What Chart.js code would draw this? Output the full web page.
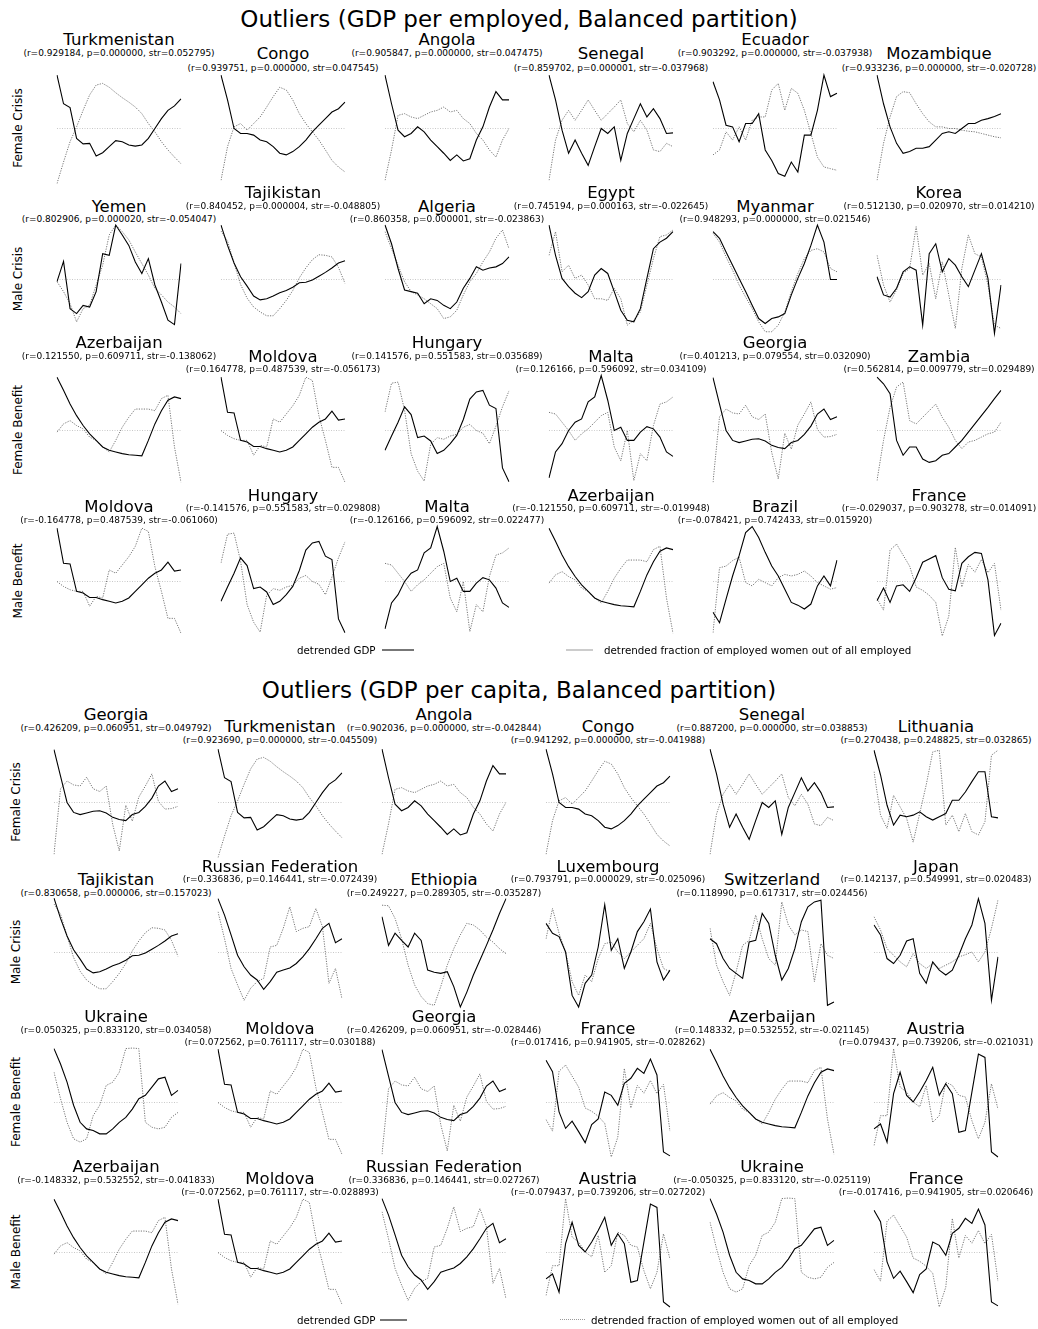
<!DOCTYPE html>
<html>
<head>
<meta charset="utf-8">
<script src="https://cdn.jsdelivr.net/npm/chart.js@4.4.1/dist/chart.umd.min.js"></script>
<style>
  body { margin: 0; background: #fff; font-family: "DejaVu Sans", sans-serif; }
  #page { position: relative; width: 1038px; height: 1329px; overflow: hidden; }
  .t { position: absolute; white-space: nowrap; transform: translate(-50%, -50%); color: #000; line-height: 1; }
  .title { font-size: 16.5px; }
  .stats { font-size: 9px; }
  .big { font-size: 23px; }
  .rowlab { font-size: 12px; transform: translate(-50%, -50%) rotate(-90deg); }
  .leg { position: absolute; font-size: 10.3px; white-space: nowrap; line-height: 1; transform: translateY(-50%); }
  .legline { position: absolute; height: 0; }
  canvas { position: absolute; }
</style>
</head>
<body>
<div id="page"></div>
<script>
// years on the x axis
const years = [1991, 1992, 1993, 1994, 1995, 1996, 1997, 1998, 1999, 2000,
               2001, 2002, 2003, 2004, 2005, 2006, 2007, 2008, 2009, 2010];

// detrended GDP (solid) and detrended female share of employment (dotted), per country
const turkmenistanGdp = [0.97, 0.45, 0.38, -0.18, -0.28, -0.27, -0.50, -0.44, -0.33, -0.22, -0.24, -0.30, -0.32, -0.30, -0.18, 0.0, 0.18, 0.33, 0.41, 0.54];
const turkmenistanFem = [-1.0, -0.61, -0.24, 0.03, 0.33, 0.61, 0.79, 0.82, 0.75, 0.65, 0.56, 0.48, 0.39, 0.27, 0.09, -0.06, -0.24, -0.39, -0.52, -0.64];
const congoGdp = [0.97, 0.52, 0.0, -0.09, -0.09, -0.12, -0.21, -0.24, -0.33, -0.45, -0.48, -0.42, -0.33, -0.21, -0.06, 0.06, 0.18, 0.30, 0.36, 0.48];
const congoFem = [-0.94, -0.33, 0.03, 0.09, -0.03, 0.09, 0.21, 0.39, 0.58, 0.75, 0.70, 0.52, 0.27, 0.09, -0.06, -0.21, -0.39, -0.58, -0.70, -0.79];
const angolaGdp = [0.97, 0.45, -0.03, -0.15, -0.09, 0.03, -0.06, -0.21, -0.33, -0.45, -0.58, -0.48, -0.59, -0.55, -0.21, 0.03, 0.39, 0.67, 0.52, 0.52];
const angolaFem = [-0.94, -0.39, 0.24, 0.27, 0.21, 0.18, 0.24, 0.30, 0.33, 0.39, 0.30, 0.33, 0.18, 0.09, -0.09, -0.21, -0.39, -0.52, -0.21, 0.0];
const senegalGdp = [0.97, 0.52, -0.03, -0.45, -0.21, -0.45, -0.67, -0.33, 0.0, -0.09, 0.03, -0.58, -0.09, 0.18, 0.45, 0.21, 0.36, 0.18, -0.09, -0.08];
const senegalFem = [-0.94, -0.21, 0.15, 0.33, 0.15, 0.33, 0.52, 0.33, 0.15, 0.27, 0.39, 0.52, 0.09, -0.06, 0.15, -0.03, -0.39, -0.42, -0.27, -0.33];
const ecuadorGdp = [0.85, 0.52, 0.06, 0.03, -0.24, 0.09, 0.09, 0.27, -0.39, -0.58, -0.82, -0.87, -0.61, -0.79, -0.12, -0.12, 0.33, 0.97, 0.58, 0.64];
const ecuadorFem = [-0.48, -0.39, -0.06, -0.21, 0.03, -0.21, 0.15, 0.21, 0.21, 0.70, 0.82, 0.33, 0.73, 0.64, 0.33, -0.09, -0.52, -0.70, -0.73, -0.76];
const mozambiqueGdp = [0.97, 0.45, 0.03, -0.27, -0.45, -0.42, -0.36, -0.36, -0.33, -0.21, -0.09, -0.06, -0.09, 0.0, 0.09, 0.09, 0.15, 0.18, 0.22, 0.27];
const mozambiqueFem = [-0.94, -0.27, 0.21, 0.58, 0.67, 0.65, 0.45, 0.27, 0.12, 0.03, 0.03, 0.0, 0.0, -0.03, -0.05, -0.06, -0.09, -0.12, -0.15, -0.17];
const yemenGdp = [-0.04, 0.33, -0.53, -0.62, -0.47, -0.50, -0.22, 0.47, 0.44, 0.99, 0.81, 0.62, 0.32, 0.11, 0.38, -0.10, -0.41, -0.74, -0.82, 0.29];
const yemenFem = [-0.04, -0.22, -0.44, -0.77, -0.53, -0.47, -0.10, 0.26, 0.81, 0.99, 0.87, 0.72, 0.50, 0.29, 0.08, -0.16, -0.28, -0.41, -0.50, -0.62];
const tajikistanGdp = [0.99, 0.62, 0.30, 0.05, -0.12, -0.30, -0.37, -0.35, -0.30, -0.24, -0.20, -0.14, -0.06, -0.05, -0.01, 0.06, 0.13, 0.21, 0.30, 0.34];
const tajikistanFem = [0.88, 0.70, 0.30, -0.09, -0.34, -0.50, -0.59, -0.66, -0.66, -0.53, -0.38, -0.20, 0.03, 0.21, 0.36, 0.45, 0.44, 0.41, 0.22, -0.07];
const algeriaGdp = [0.99, 0.65, 0.20, -0.19, -0.22, -0.25, -0.44, -0.35, -0.38, -0.47, -0.53, -0.41, -0.16, 0.02, 0.23, 0.17, 0.21, 0.23, 0.29, 0.41];
const algeriaFem = [0.87, 0.56, 0.26, -0.04, -0.22, -0.28, -0.35, -0.44, -0.53, -0.71, -0.68, -0.56, -0.28, -0.04, 0.11, 0.32, 0.50, 0.75, 0.90, 0.56];
const egyptGdp = [0.99, 0.44, 0.02, -0.13, -0.25, -0.33, -0.22, 0.08, 0.20, 0.11, -0.22, -0.56, -0.74, -0.77, -0.53, 0.02, 0.56, 0.68, 0.75, 0.87];
const egyptFem = [0.44, 0.87, 0.14, 0.26, 0.02, 0.08, -0.10, -0.35, -0.35, -0.38, -0.16, -0.35, -0.83, -0.74, -0.59, -0.10, 0.38, 0.78, 0.81, 0.90];
const myanmarGdp = [0.87, 0.75, 0.50, 0.26, 0.02, -0.22, -0.47, -0.71, -0.80, -0.71, -0.68, -0.62, -0.28, 0.02, 0.29, 0.62, 0.99, 0.68, 0.0, 0.0];
const myanmarFem = [0.84, 0.68, 0.41, 0.17, -0.10, -0.32, -0.53, -0.77, -0.95, -0.95, -0.83, -0.59, -0.22, 0.11, 0.38, 0.53, 0.56, 0.50, 0.20, 0.14];
const koreaGdp = [0.05, -0.28, -0.32, -0.16, 0.14, 0.23, 0.17, -0.83, 0.47, 0.65, 0.14, 0.38, 0.26, 0.05, -0.13, 0.17, 0.47, 0.02, -0.98, -0.10];
const koreaFem = [0.44, -0.10, -0.41, -0.19, 0.11, 0.20, 0.96, 0.08, 0.29, -0.35, 0.32, -0.28, -0.89, 0.20, 0.81, 0.47, 0.41, -0.10, -0.83, -0.89];
const azerbaijanGdp = [0.97, 0.73, 0.48, 0.27, 0.09, -0.06, -0.18, -0.30, -0.36, -0.39, -0.42, -0.44, -0.45, -0.46, -0.18, 0.12, 0.36, 0.55, 0.61, 0.58];
const azerbaijanFem = [-0.03, 0.12, 0.18, 0.09, 0.03, -0.12, -0.18, -0.30, -0.39, -0.18, 0.06, 0.24, 0.39, 0.39, 0.39, 0.36, 0.58, 0.64, -0.30, -0.94];
const moldovaGdp = [0.97, 0.33, 0.32, -0.18, -0.21, -0.29, -0.29, -0.33, -0.36, -0.39, -0.36, -0.30, -0.18, -0.06, 0.06, 0.15, 0.21, 0.35, 0.19, 0.21];
const moldovaFem = [0.0, -0.09, -0.15, -0.18, -0.18, -0.45, -0.27, -0.30, 0.21, 0.15, 0.30, 0.45, 0.64, 0.97, 0.91, 0.27, -0.18, -0.67, -0.67, -0.94];
const hungaryGdp = [-0.36, -0.10, 0.15, 0.43, 0.29, -0.13, -0.10, -0.19, -0.42, -0.36, -0.24, -0.09, 0.20, 0.57, 0.70, 0.73, 0.46, 0.40, -0.68, -0.93];
const hungaryFem = [0.34, 0.86, 0.88, 0.37, -0.42, -0.74, -0.92, -0.25, -0.13, -0.16, -0.10, -0.07, 0.06, 0.11, 0.0, -0.05, -0.24, 0.08, 0.43, 0.72];
const maltaGdp = [-0.86, -0.39, -0.24, 0.0, 0.15, 0.21, 0.52, 0.61, 1.0, 0.55, 0.0, 0.06, -0.18, -0.18, -0.03, 0.07, 0.03, -0.12, -0.39, -0.47];
const maltaFem = [0.33, 0.30, 0.15, 0.0, -0.18, -0.06, 0.03, 0.15, 0.27, 0.33, -0.30, -0.55, 0.0, -0.91, -0.42, -0.55, 0.09, 0.48, 0.52, 0.61];
const georgiaGdp = [0.96, 0.48, 0.0, -0.18, -0.22, -0.19, -0.16, -0.15, -0.19, -0.27, -0.31, -0.33, -0.22, -0.18, -0.07, 0.08, 0.30, 0.39, 0.20, 0.25];
const georgiaFem = [-0.94, 0.25, 0.39, 0.32, 0.30, 0.46, 0.25, 0.20, 0.30, -0.40, -0.88, -0.05, -0.34, 0.10, 0.30, 0.52, 0.02, -0.12, -0.11, -0.07];
const zambiaGdp = [0.97, 0.85, 0.67, -0.18, -0.45, -0.30, -0.30, -0.52, -0.58, -0.55, -0.45, -0.42, -0.30, -0.18, -0.03, 0.12, 0.27, 0.42, 0.58, 0.73];
const zambiaFem = [-0.91, -0.18, 0.42, 0.79, 0.88, 0.18, 0.12, 0.24, 0.36, 0.48, 0.24, 0.06, -0.18, -0.33, -0.21, -0.18, -0.12, -0.06, -0.03, 0.15];
const brazilGdp = [-0.56, -0.75, -0.32, 0.10, 0.47, 0.89, 1.0, 0.80, 0.53, 0.28, 0.10, -0.14, -0.38, -0.43, -0.50, -0.41, -0.08, 0.10, -0.08, 0.39];
const brazilFem = [-0.93, 0.25, 0.28, 0.38, 0.44, -0.02, -0.08, 0.04, -0.02, -0.08, 0.07, 0.13, 0.10, 0.13, 0.19, 0.10, -0.02, -0.08, -0.14, -0.11];
const franceGdpEmp = [-0.35, -0.12, -0.38, -0.08, -0.06, -0.18, 0.07, 0.35, 0.41, 0.47, 0.07, -0.14, -0.17, 0.33, 0.45, 0.53, 0.51, 0.03, -0.98, -0.76];
const franceGdpCap = [0.77, 0.56, -0.17, -0.47, -0.34, -0.53, -0.73, -0.40, -0.30, 0.19, 0.13, -0.05, 0.35, 0.44, 0.62, 0.53, 0.79, 0.50, -0.90, -0.97];
const franceFem = [-0.31, -0.52, 0.57, 0.68, 0.48, 0.28, -0.10, -0.16, -0.25, -0.38, -0.99, -0.63, 0.62, -0.10, 0.31, 0.17, 0.40, 0.16, 0.33, -0.52];
const lithuaniaGdp = [0.95, 0.50, -0.05, -0.41, -0.23, -0.26, -0.23, -0.17, -0.26, -0.32, -0.26, -0.20, 0.04, 0.04, 0.19, 0.38, 0.56, 0.56, -0.26, -0.28];
const lithuaniaFem = [0.56, -0.23, -0.47, 0.13, -0.08, -0.29, -0.72, -0.20, 0.32, 0.92, 0.95, -0.41, -0.23, -0.53, -0.20, -0.53, -0.59, -0.35, 0.86, 0.95];
const russiaGdp = [0.98, 0.68, 0.32, -0.05, -0.26, -0.41, -0.50, -0.67, -0.53, -0.36, -0.32, -0.28, -0.20, -0.08, 0.07, 0.25, 0.44, 0.53, 0.18, 0.25];
const russiaFem = [0.74, 0.25, -0.29, -0.59, -0.87, -0.65, -0.53, -0.47, 0.10, 0.13, 0.44, 0.83, 0.38, 0.44, 0.47, 0.80, 0.47, -0.56, -0.29, -0.84];
const ethiopiaGdp = [0.65, 0.13, 0.35, 0.22, 0.10, 0.35, 0.22, -0.32, -0.36, -0.38, -0.35, -0.62, -0.99, -0.72, -0.41, -0.14, 0.13, 0.41, 0.71, 0.98];
const ethiopiaFem = [0.86, 0.85, 0.62, 0.25, -0.23, -0.59, -0.80, -0.93, -0.96, -0.62, -0.23, 0.07, 0.32, 0.53, 0.50, 0.41, 0.28, 0.19, 0.07, -0.02];
const luxembourgGdp = [0.53, 0.35, 0.29, 0.01, -0.78, -0.99, -0.56, -0.41, 0.10, 0.87, 0.04, 0.25, -0.29, 0.01, 0.38, 0.56, 0.79, -0.17, -0.50, -0.32];
const luxembourgFem = [0.25, 0.80, 0.35, 0.01, -0.53, -0.78, -0.41, -0.53, -0.11, 0.16, 0.19, 0.01, -0.11, 0.01, 0.13, 0.25, 0.53, 0.07, -0.29, -0.35];
const switzerlandGdp = [0.25, 0.16, -0.11, -0.29, -0.38, -0.47, 0.19, 0.22, 0.71, 0.53, -0.05, -0.50, -0.29, 0.07, 0.56, 0.83, 0.92, 0.95, -0.96, -0.90];
const switzerlandFem = [0.44, -0.23, -0.53, -0.78, -0.35, 0.13, 0.22, 0.68, 0.25, -0.11, -0.23, 0.92, 0.50, 0.32, 0.41, 0.38, -0.53, 0.16, -0.05, -0.11];
const japanGdp = [0.50, 0.32, -0.11, -0.20, -0.05, 0.21, 0.25, -0.38, -0.56, -0.17, -0.32, -0.41, -0.32, -0.05, 0.25, 0.50, 0.98, 0.53, -0.87, -0.08];
const japanFem = [0.65, 0.41, 0.07, -0.05, -0.17, -0.26, -0.02, -0.20, -0.29, -0.20, -0.29, -0.23, -0.17, -0.08, -0.04, 0.01, -0.17, 0.01, 0.44, 0.95];
const ukraineGdp = [0.98, 0.70, 0.37, -0.05, -0.36, -0.48, -0.51, -0.57, -0.57, -0.48, -0.36, -0.27, -0.12, 0.07, 0.13, 0.28, 0.43, 0.46, 0.13, 0.22];
const ukraineFem = [0.55, 0.07, -0.36, -0.66, -0.72, -0.66, -0.24, -0.05, 0.31, 0.37, 0.55, 0.98, 0.99, 0.98, -0.36, -0.45, -0.48, -0.45, -0.27, -0.18];
const austriaGdp = [-0.48, -0.39, -0.72, 0.16, 0.55, 0.13, 0.01, 0.19, 0.40, 0.64, 0.13, 0.34, 0.16, -0.54, -0.51, 0.19, 0.88, 0.82, -0.90, -0.99];
const austriaFem = [-0.78, -0.24, -0.24, 0.98, 0.28, 0.19, 0.01, -0.08, 0.31, -0.36, -0.24, 0.37, 0.31, 0.13, 0.10, -0.33, -0.66, -0.36, 0.34, -0.12];

const rowNames = ['Female Crisis', 'Male Crisis', 'Female Benefit', 'Male Benefit'];

// panel 1: GDP per employed
const empCountries = [
  ['Turkmenistan', 'Congo', 'Angola', 'Senegal', 'Ecuador', 'Mozambique'],
  ['Yemen', 'Tajikistan', 'Algeria', 'Egypt', 'Myanmar', 'Korea'],
  ['Azerbaijan', 'Moldova', 'Hungary', 'Malta', 'Georgia', 'Zambia'],
  ['Moldova', 'Hungary', 'Malta', 'Azerbaijan', 'Brazil', 'France']
];
const empStats = [
  ['(r=0.929184, p=0.000000, str=0.052795)', '(r=0.939751, p=0.000000, str=0.047545)', '(r=0.905847, p=0.000000, str=0.047475)',
   '(r=0.859702, p=0.000001, str=-0.037968)', '(r=0.903292, p=0.000000, str=-0.037938)', '(r=0.933236, p=0.000000, str=-0.020728)'],
  ['(r=0.802906, p=0.000020, str=-0.054047)', '(r=0.840452, p=0.000004, str=-0.048805)', '(r=0.860358, p=0.000001, str=-0.023863)',
   '(r=0.745194, p=0.000163, str=-0.022645)', '(r=0.948293, p=0.000000, str=0.021546)', '(r=0.512130, p=0.020970, str=0.014210)'],
  ['(r=0.121550, p=0.609711, str=-0.138062)', '(r=0.164778, p=0.487539, str=-0.056173)', '(r=0.141576, p=0.551583, str=0.035689)',
   '(r=0.126166, p=0.596092, str=0.034109)', '(r=0.401213, p=0.079554, str=0.032090)', '(r=0.562814, p=0.009779, str=0.029489)'],
  ['(r=-0.164778, p=0.487539, str=-0.061060)', '(r=-0.141576, p=0.551583, str=0.029808)', '(r=-0.126166, p=0.596092, str=0.022477)',
   '(r=-0.121550, p=0.609711, str=-0.019948)', '(r=-0.078421, p=0.742433, str=0.015920)', '(r=-0.029037, p=0.903278, str=0.014091)']
];
const empGdp = [
  [turkmenistanGdp, congoGdp, angolaGdp, senegalGdp, ecuadorGdp, mozambiqueGdp],
  [yemenGdp, tajikistanGdp, algeriaGdp, egyptGdp, myanmarGdp, koreaGdp],
  [azerbaijanGdp, moldovaGdp, hungaryGdp, maltaGdp, georgiaGdp, zambiaGdp],
  [moldovaGdp, hungaryGdp, maltaGdp, azerbaijanGdp, brazilGdp, franceGdpEmp]
];
const empFem = [
  [turkmenistanFem, congoFem, angolaFem, senegalFem, ecuadorFem, mozambiqueFem],
  [yemenFem, tajikistanFem, algeriaFem, egyptFem, myanmarFem, koreaFem],
  [azerbaijanFem, moldovaFem, hungaryFem, maltaFem, georgiaFem, zambiaFem],
  [moldovaFem, hungaryFem, maltaFem, azerbaijanFem, brazilFem, franceFem]
];

// panel 2: GDP per capita
const capCountries = [
  ['Georgia', 'Turkmenistan', 'Angola', 'Congo', 'Senegal', 'Lithuania'],
  ['Tajikistan', 'Russian Federation', 'Ethiopia', 'Luxembourg', 'Switzerland', 'Japan'],
  ['Ukraine', 'Moldova', 'Georgia', 'France', 'Azerbaijan', 'Austria'],
  ['Azerbaijan', 'Moldova', 'Russian Federation', 'Austria', 'Ukraine', 'France']
];
const capStats = [
  ['(r=0.426209, p=0.060951, str=0.049792)', '(r=0.923690, p=0.000000, str=-0.045509)', '(r=0.902036, p=0.000000, str=-0.042844)',
   '(r=0.941292, p=0.000000, str=-0.041988)', '(r=0.887200, p=0.000000, str=0.038853)', '(r=0.270438, p=0.248825, str=0.032865)'],
  ['(r=0.830658, p=0.000006, str=0.157023)', '(r=0.336836, p=0.146441, str=-0.072439)', '(r=0.249227, p=0.289305, str=-0.035287)',
   '(r=0.793791, p=0.000029, str=-0.025096)', '(r=0.118990, p=0.617317, str=0.024456)', '(r=0.142137, p=0.549991, str=0.020483)'],
  ['(r=0.050325, p=0.833120, str=0.034058)', '(r=0.072562, p=0.761117, str=0.030188)', '(r=0.426209, p=0.060951, str=-0.028446)',
   '(r=0.017416, p=0.941905, str=-0.028262)', '(r=0.148332, p=0.532552, str=-0.021145)', '(r=0.079437, p=0.739206, str=-0.021031)'],
  ['(r=-0.148332, p=0.532552, str=-0.041833)', '(r=-0.072562, p=0.761117, str=-0.028893)', '(r=0.336836, p=0.146441, str=0.027267)',
   '(r=-0.079437, p=0.739206, str=0.027202)', '(r=-0.050325, p=0.833120, str=-0.025119)', '(r=-0.017416, p=0.941905, str=0.020646)']
];
const capGdp = [
  [georgiaGdp, turkmenistanGdp, angolaGdp, congoGdp, senegalGdp, lithuaniaGdp],
  [tajikistanGdp, russiaGdp, ethiopiaGdp, luxembourgGdp, switzerlandGdp, japanGdp],
  [ukraineGdp, moldovaGdp, georgiaGdp, franceGdpCap, azerbaijanGdp, austriaGdp],
  [azerbaijanGdp, moldovaGdp, russiaGdp, austriaGdp, ukraineGdp, franceGdpCap]
];
const capFem = [
  [georgiaFem, turkmenistanFem, angolaFem, congoFem, senegalFem, lithuaniaFem],
  [tajikistanFem, russiaFem, ethiopiaFem, luxembourgFem, switzerlandFem, japanFem],
  [ukraineFem, moldovaFem, georgiaFem, franceFem, azerbaijanFem, austriaFem],
  [azerbaijanFem, moldovaFem, russiaFem, austriaFem, ukraineFem, franceFem]
];

// layout
const page = document.getElementById('page');
const PLOT_W = 124, HALF_H = 60.5, PAD = 3;

const addText = (cls, txt, x, y) => {
  const el = document.createElement('div');
  el.className = 't ' + cls;
  el.textContent = txt;
  el.style.left = x + 'px';
  el.style.top = y + 'px';
  page.appendChild(el);
}

const addLegend = (y, gdpText, gdpLine, femLine, femText, femDash) => {
  const a = document.createElement('div');
  a.className = 'leg'; a.textContent = 'detrended GDP';
  a.style.left = gdpText + 'px'; a.style.top = y + 'px';
  page.appendChild(a);
  const l1 = document.createElement('div');
  l1.className = 'legline';
  l1.style.left = gdpLine[0] + 'px'; l1.style.width = (gdpLine[1] - gdpLine[0]) + 'px';
  l1.style.top = (y - 1) + 'px'; l1.style.borderTop = '2px solid #777';
  page.appendChild(l1);
  const l2 = document.createElement('div');
  l2.className = 'legline';
  l2.style.left = femLine[0] + 'px'; l2.style.width = (femLine[1] - femLine[0]) + 'px';
  l2.style.top = (y - 1) + 'px'; l2.style.borderTop = femDash ? '1px dotted #999' : '2px solid #ccc';
  page.appendChild(l2);
  const b = document.createElement('div');
  b.className = 'leg'; b.textContent = 'detrended fraction of employed women out of all employed';
  b.style.left = femText + 'px'; b.style.top = y + 'px';
  page.appendChild(b);
}

const drawSmall = (x0, zeroY, gdp, fem) => {
  const canvas = document.createElement('canvas');
  canvas.width = PLOT_W + 2 * PAD;
  canvas.height = Math.round(2 * HALF_H) + 2 * PAD;
  canvas.style.left = (x0 - PAD) + 'px';
  canvas.style.top = Math.round(zeroY - HALF_H - PAD) + 'px';
  page.appendChild(canvas);
  new Chart(canvas, {
    type: 'line',
    data: {
      labels: years,
      datasets: [
        { data: gdp, borderColor: '#000', borderWidth: 1.1, pointRadius: 0 },
        { data: fem, borderColor: '#777', borderWidth: 1, borderDash: [1.2, 1.3], pointRadius: 0 },
        { data: years.map(() => 0), borderColor: '#c8c8c8', borderWidth: 1, borderDash: [1, 1.5], pointRadius: 0 }
      ]
    },
    options: {
      responsive: false,
      animation: false,
      events: [],
      layout: { padding: PAD },
      plugins: { legend: { display: false }, tooltip: { enabled: false } },
      scales: {
        x: { display: false, offset: false },
        y: { display: false, min: -1.1, max: 1.1 }
      }
    }
  });
}

const drawPanel = (cfg) => {
  addText('big', cfg.title, 519, cfg.titleY);
  for (let r = 0; r < 4; r++) {
    addText('rowlab', rowNames[r], cfg.labelX, cfg.zeros[r]);
    for (let c = 0; c < 6; c++) {
      const x0 = cfg.cols[c];
      const cx = x0 + PLOT_W / 2;
      const pos = (c % 2 === 0) ? cfg.heads[r][0] : cfg.heads[r][1];
      addText('title', cfg.countries[r][c], cx, pos[0]);
      addText('stats', cfg.stats[r][c], cx, pos[1]);
      drawSmall(x0, cfg.zeros[r], cfg.gdp[r][c], cfg.fem[r][c]);
    }
  }
}

drawPanel({
  title: 'Outliers (GDP per employed, Balanced partition)', titleY: 19,
  cols: [57, 221, 385, 549, 713, 877], labelX: 18,
  zeros: [128, 279, 430, 581],
  heads: [[[40, 53], [54, 68]], [[207, 219], [193, 206]], [[343, 356], [357, 369]], [[507, 520], [496, 508]]],
  countries: empCountries, stats: empStats, gdp: empGdp, fem: empFem
});
addLegend(650, 297, [382, 414], [566, 593], 604, false);

drawPanel({
  title: 'Outliers (GDP per capita, Balanced partition)', titleY: 690,
  cols: [54, 218, 382, 546, 710, 874], labelX: 16,
  zeros: [802, 952, 1102, 1252],
  heads: [[[715, 728], [727, 740]], [[880, 893], [867, 879]], [[1017, 1030], [1029, 1042]], [[1167, 1180], [1179, 1192]]],
  countries: capCountries, stats: capStats, gdp: capGdp, fem: capFem
});
addLegend(1320, 297, [380, 407], [560, 585], 591, true);
</script>
</body>
</html>
